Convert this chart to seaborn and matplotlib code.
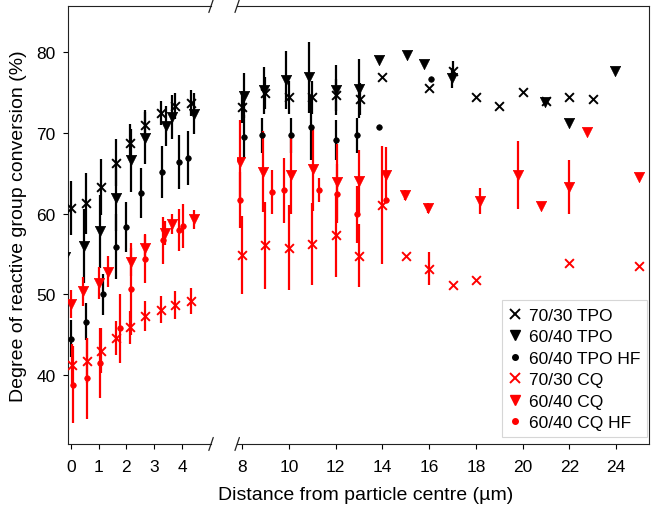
import matplotlib
matplotlib.use("Agg")
import matplotlib.pyplot as plt
from matplotlib.lines import Line2D
import numpy as np
import pandas as pd
import seaborn as sns

# ---------------- data ----------------
series_names = ["70/30 TPO", "60/40 TPO", "60/40 TPO HF", "70/30 CQ", "60/40 CQ", "60/40 CQ HF"]

tpo7030_x = [0, 0.55, 1.08, 1.62, 2.13, 2.67, 3.24, 3.76, 4.32,
             8.0, 8.96, 10.0, 10.98, 12.0, 13.03, 14.0, 15.98, 17.0, 18.0, 19.0, 20.0, 20.98, 21.97, 22.99]
tpo7030_y = [60.7, 61.3, 63.3, 66.3, 68.8, 71.0, 72.5, 73.3, 73.7,
             73.2, 75.0, 74.4, 74.4, 74.7, 74.2, 77.0, 75.6, 77.7, 74.4, 73.3, 75.1, 74.0, 74.4, 74.2]
tpo7030_e = [3.4, 3.8, 3.5, 2.9, 2.3, 1.9, 1.5, 1.6, 1.6,
             2.0, 2.0, 2.0, 2.0, 2.0, 2.0, 0, 0, 1.2, 0, 0, 0, 0, 0, 0]

tpo6040_x = [-0.19, 0.49, 1.05, 1.62, 2.17, 2.67, 3.41, 3.64, 4.44,
             8.1, 8.92, 9.89, 10.88, 12.0, 13.0, 13.86, 15.06, 15.8, 16.98, 20.95, 22.0, 23.93]
tpo6040_y = [54.6, 56.0, 57.8, 61.9, 66.6, 69.4, 70.9, 72.0, 72.4,
             74.6, 75.3, 76.6, 76.9, 75.3, 75.5, 79.0, 79.7, 78.6, 76.8, 73.9, 71.3, 77.7]
tpo6040_e = [0, 4.6, 4.5, 4.0, 3.9, 3.2, 2.5, 2.7, 2.5,
             2.8, 2.9, 3.6, 4.4, 3.1, 3.7, 0, 0, 0, 1.2, 0, 0, 0]

tpohf_x = [0, 0.55, 1.16, 1.64, 1.98, 2.53, 3.28, 3.88, 4.23,
           8.1, 8.85, 10.1, 10.95, 12.0, 12.9, 13.86, 16.08]
tpohf_y = [44.5, 46.6, 50.0, 55.9, 58.4, 62.6, 65.2, 66.4, 66.9,
           69.5, 69.7, 69.7, 70.7, 69.1, 69.7, 70.7, 76.7]
tpohf_e = [2.3, 2.3, 2.5, 4.0, 3.1, 3.1, 3.2, 3.3, 3.4,
           2.7, 2.2, 2.2, 4.0, 2.5, 2.2, 0, 0]

cq7030_x = [0.04, 0.57, 1.07, 1.62, 2.13, 2.67, 3.24, 3.76, 4.32,
            8.0, 8.96, 10.0, 10.98, 12.0, 13.0, 14.0, 15.0, 15.98, 17.0, 18.0, 21.97, 24.98]
cq7030_y = [41.3, 41.8, 43.0, 44.6, 45.9, 47.3, 48.1, 48.7, 49.2,
            54.9, 56.1, 55.8, 56.2, 57.3, 54.8, 61.1, 54.7, 53.2, 51.2, 51.8, 53.9, 53.5]
cq7030_e = [2.6, 2.8, 2.8, 2.1, 2.0, 1.9, 1.7, 1.7, 1.6,
            4.8, 5.4, 5.3, 5.1, 5.2, 3.9, 7.3, 0, 2.0, 0, 0, 0, 0]

cq6040_x = [0, 0.45, 1.02, 1.34, 2.17, 2.67, 3.37, 3.63, 4.41,
            7.93, 8.88, 10.1, 11.05, 12.07, 13.0, 14.14, 14.95, 15.94, 18.18, 19.81, 20.79, 22.0, 22.75, 24.98]
cq6040_y = [48.8, 50.4, 51.4, 52.8, 54.0, 55.8, 57.6, 58.7, 59.3,
            66.4, 65.2, 64.8, 65.5, 63.9, 64.0, 64.8, 62.3, 60.7, 61.6, 64.8, 61.0, 63.3, 70.1, 64.6]
cq6040_e = [1.7, 1.8, 2.0, 1.9, 1.7, 1.7, 1.5, 1.2, 1.2,
            5.2, 5.0, 4.9, 5.2, 4.7, 3.9, 3.5, 0.6, 0.6, 1.6, 4.2, 0, 3.4, 0, 0]

cqhf_x = [0.07, 0.6, 1.05, 1.76, 2.17, 2.67, 3.31, 3.88, 4.05,
          7.93, 9.28, 9.81, 11.3, 12.04, 12.9, 14.14]
cqhf_y = [38.8, 39.6, 41.5, 45.8, 50.7, 54.4, 56.7, 58.0, 58.5,
          61.7, 62.7, 62.9, 62.9, 62.5, 59.9, 61.7]
cqhf_e = [4.8, 5.0, 4.3, 4.3, 5.7, 3.0, 2.9, 2.6, 2.7,
          3.5, 2.7, 4.0, 1.5, 3.7, 3.5, 0]

left_ticks = [0, 1, 2, 3, 4]
right_ticks = [8, 10, 12, 14, 16, 18, 20, 22, 24]
y_ticks = [40, 50, 60, 70, 80]

# ---------------- table ----------------
series_data = {
    "70/30 TPO": (tpo7030_x, tpo7030_y, tpo7030_e),
    "60/40 TPO": (tpo6040_x, tpo6040_y, tpo6040_e),
    "60/40 TPO HF": (tpohf_x, tpohf_y, tpohf_e),
    "70/30 CQ": (cq7030_x, cq7030_y, cq7030_e),
    "60/40 CQ": (cq6040_x, cq6040_y, cq6040_e),
    "60/40 CQ HF": (cqhf_x, cqhf_y, cqhf_e),
}
frames = []
for name, (xs, ys, es) in series_data.items():
    frames.append(pd.DataFrame({"series": name, "x": xs, "y": ys, "err": es}))
df = pd.concat(frames, ignore_index=True)

RED = "#ff0000"
style = {
    "70/30 TPO": dict(color="black", marker="x", s=40, lw=1.4),
    "60/40 TPO": dict(color="black", marker="v", s=55, lw=0),
    "60/40 TPO HF": dict(color="black", marker="o", s=16, lw=0),
    "70/30 CQ": dict(color=RED, marker="x", s=40, lw=1.4),
    "60/40 CQ": dict(color=RED, marker="v", s=55, lw=0),
    "60/40 CQ HF": dict(color=RED, marker="o", s=16, lw=0),
}

# ---------------- figure ----------------
sns.set_style("ticks")
plt.rcParams['font.family'] = ['Liberation Sans', 'DejaVu Sans']
plt.rcParams['text.color'] = 'black'
plt.rcParams['axes.labelcolor'] = 'black'
plt.rcParams['xtick.color'] = 'black'
plt.rcParams['ytick.color'] = 'black'

fig = plt.figure(figsize=(6.7, 5.1), dpi=100)
bottom, height = 0.1275, 0.8588
axL = fig.add_axes([0.101, bottom, 0.214, height])
axR = fig.add_axes([0.354, bottom, 0.6145, height], sharey=axL)

for ax in (axL, axR):
    for name in series_names:
        sub = df[df["series"] == name]
        st = style[name]
        ax.errorbar(sub["x"], sub["y"], yerr=sub["err"], fmt="none",
                    ecolor=st["color"], elinewidth=1.6, capsize=0, zorder=2)
        kws = dict(marker=st["marker"], color=st["color"], s=st["s"], zorder=3, legend=False)
        if st["marker"] == "x":
            kws["linewidth"] = st["lw"]
        else:
            kws["edgecolor"] = st["color"]
            kws["linewidth"] = 0.5
        sns.scatterplot(data=sub, x="x", y="y", ax=ax, **kws)
    ax.set_xlabel("")
    ax.set_ylabel("")
    for sp in ax.spines.values():
        sp.set_linewidth(0.8)
        sp.set_color("#222222")
    ax.tick_params(labelsize=12.5, length=3.5, width=0.8)
    ax.tick_params(axis="x", pad=7)
    ax.tick_params(axis="y", pad=5)

axL.set_xlim(-0.11, 5.04)
axR.set_xlim(7.79, 25.4)
axL.set_ylim(31.46, 85.74)
axL.set_xticks(left_ticks)
axR.set_xticks(right_ticks)
axL.set_yticks(y_ticks)
axL.spines["right"].set_visible(False)
axR.spines["left"].set_visible(False)
axR.tick_params(axis="y", left=False, labelleft=False)
axL.set_ylabel("Degree of reactive group conversion (%)", fontsize=14, labelpad=7)
fig.text(0.545, 0.028, "Distance from particle centre (\u00b5m)", fontsize=14, ha="center", va="center")

# break marks
def slash(ax, xpos, w_px, h_axes_px):
    dx = 2.2 / w_px
    dy = 6.5 / h_axes_px
    for ypos in (0, 1):
        ax.plot([xpos - dx, xpos + dx], [ypos - dy, ypos + dy], transform=ax.transAxes,
                color="#222222", lw=0.9, clip_on=False)

fig_h = 510 * height
slash(axL, 1.0, 670 * 0.214, fig_h)
slash(axR, 0.0, 670 * 0.6145, fig_h)

# legend
handles = []
for name in series_names:
    st = style[name]
    if st["marker"] == "x":
        h = Line2D([], [], linestyle="none", marker="x", color=st["color"], markersize=6.5, markeredgewidth=1.4)
    elif st["marker"] == "v":
        h = Line2D([], [], linestyle="none", marker="v", color=st["color"], markersize=7.5)
    else:
        h = Line2D([], [], linestyle="none", marker="o", color=st["color"], markersize=4)
    handles.append(h)
leg = axR.legend(handles, series_names, loc="lower right", bbox_to_anchor=(0.995, 0.015),
                 fontsize=12.5, frameon=True, fancybox=False, labelspacing=0.37,
                 handletextpad=0.35, handlelength=0.8, borderpad=0.4, borderaxespad=0)
leg.get_frame().set_edgecolor("#cccccc")
leg.get_frame().set_linewidth(0.8)

fig.savefig("out.png", dpi=100)
